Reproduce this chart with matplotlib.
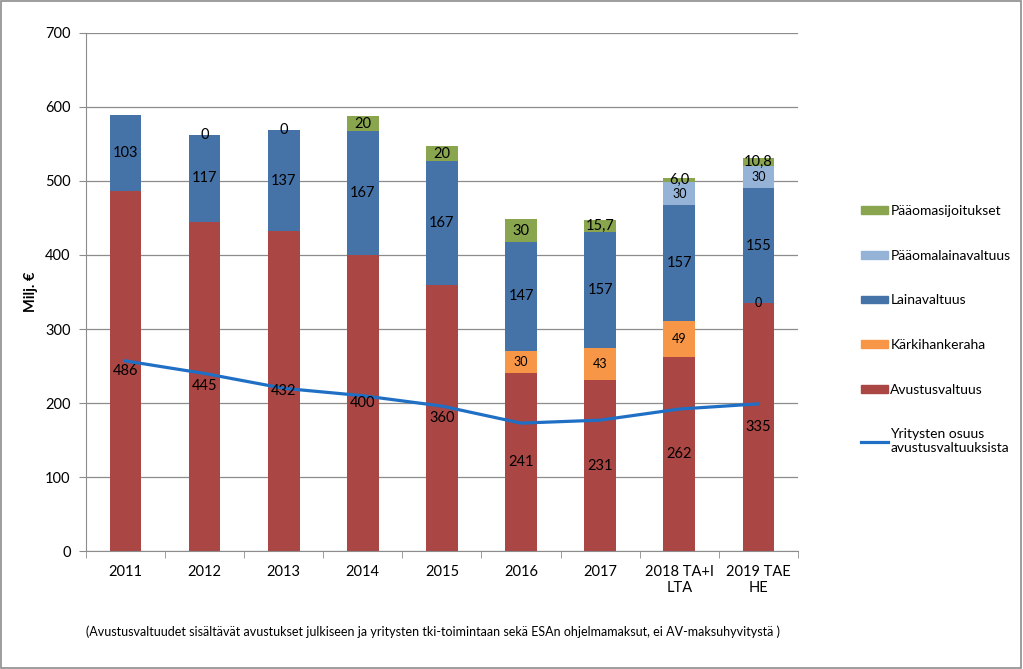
import matplotlib.pyplot as plt
import numpy as np
from matplotlib.patches import Patch, Rectangle
from matplotlib.lines import Line2D

plt.rcParams['font.family'] = ['Lato', 'DejaVu Sans']

# Tiedot
vuodet = ['2011', '2012', '2013', '2014', '2015', '2016', '2017', '2018 TA+I\nLTA', '2019 TAE\nHE']
avustusvaltuus = [486, 445, 432, 400, 360, 241, 231, 262, 335]
karkihankeraha = [np.nan, np.nan, np.nan, np.nan, np.nan, 30, 43, 49, 0]
lainavaltuus = [103, 117, 137, 167, 167, 147, 157, 157, 155]
paaomalainavaltuus = [np.nan, np.nan, np.nan, np.nan, np.nan, np.nan, np.nan, 30, 30]
paaomasijoitukset = [np.nan, 0, 0, 20, 20, 30, 15.7, 6.0, 10.8]
paaomasijoitukset_tekstit = ['', '0', '0', '20', '20', '30', '15,7', '6,0', '10,8']
yritysten_osuus = [257, 240, 220, 210, 196, 173, 177, 192, 199]

varit = {
    'Avustusvaltuus': '#AA4643',
    'Kärkihankeraha': '#F79646',
    'Lainavaltuus': '#4572A7',
    'Pääomalainavaltuus': '#95B3D7',
    'Pääomasijoitukset': '#89A54E',
}
viiva_vari = '#1F6FC5'

fig = plt.figure(figsize=(10.23, 6.69), dpi=100)
ax = fig.add_axes([0.084, 0.176, 0.696, 0.775])

x = np.arange(len(vuodet))
leveys = 0.4
pohja = np.zeros(len(vuodet))

sarjat = [
    ('Avustusvaltuus', avustusvaltuus, None, 10.5),
    ('Kärkihankeraha', karkihankeraha, None, 9),
    ('Lainavaltuus', lainavaltuus, None, 10.5),
    ('Pääomalainavaltuus', paaomalainavaltuus, None, 9),
    ('Pääomasijoitukset', paaomasijoitukset, paaomasijoitukset_tekstit, 10.5),
]

for nimi, arvot, tekstit, koko in sarjat:
    arvot = np.array(arvot, dtype=float)
    korkeus = np.nan_to_num(arvot)
    ax.bar(x, korkeus, leveys, bottom=pohja, color=varit[nimi], zorder=2)
    for i, v in enumerate(arvot):
        if np.isnan(v):
            continue
        teksti = tekstit[i] if tekstit else f'{v:.0f}'
        ax.text(x[i], pohja[i] + korkeus[i] / 2, teksti, ha='center', va='center',
                fontsize=koko, color='black', zorder=4)
    pohja = pohja + korkeus

ax.plot(x, yritysten_osuus, color=viiva_vari, linewidth=2.3, zorder=3)

ax.set_xlim(-0.5, len(vuodet) - 0.5)
ax.set_ylim(0, 700)
ax.set_yticks(range(0, 701, 100))
ax.yaxis.grid(True, color='#8c8c8c', linewidth=0.9, zorder=0)
ax.set_axisbelow(True)

ax.set_xticks(x)
ax.set_xticklabels(vuodet, fontsize=10.5)
ax.set_xticks(np.arange(-0.5, len(vuodet), 1), minor=True)
ax.tick_params(axis='x', which='major', length=0, pad=10)
ax.tick_params(axis='x', which='minor', length=5, color='#8c8c8c')
ax.tick_params(axis='y', length=5, color='#8c8c8c', labelsize=10.5, pad=6)

for s in ['top', 'right']:
    ax.spines[s].set_visible(False)
for s in ['left', 'bottom']:
    ax.spines[s].set_color('#8c8c8c')

ax.set_ylabel('Milj. €', fontsize=10.5, fontweight='bold', labelpad=5)

# Selite
kahvat = [
    Patch(color=varit['Pääomasijoitukset']),
    Patch(color=varit['Pääomalainavaltuus']),
    Patch(color=varit['Lainavaltuus']),
    Patch(color=varit['Kärkihankeraha']),
    Patch(color=varit['Avustusvaltuus']),
    Line2D([], [], color=viiva_vari, linewidth=2.3),
]
nimet = ['Pääomasijoitukset', 'Pääomalainavaltuus', 'Lainavaltuus', 'Kärkihankeraha',
         'Avustusvaltuus', 'Yritysten osuus\navustusvaltuuksista']
fig.legend(kahvat, nimet, loc='upper left', bbox_to_anchor=(0.829, 0.712), frameon=False,
           fontsize=10, handlelength=1.95, handleheight=0.45, handletextpad=0.2,
           labelspacing=2.35)

fig.text(0.084, 0.055, '(Avustusvaltuudet sisältävät avustukset julkiseen ja yritysten tki-toimintaan sekä ESAn ohjelmamaksut, ei AV-maksuhyvitystä )',
         fontsize=9, ha='left', va='center')

fig.patches.append(Rectangle((0.001, 0.001), 0.997, 0.997, transform=fig.transFigure,
                             fill=False, edgecolor='#8c8c8c', linewidth=1.2))

fig.savefig('out.png', dpi=100)
